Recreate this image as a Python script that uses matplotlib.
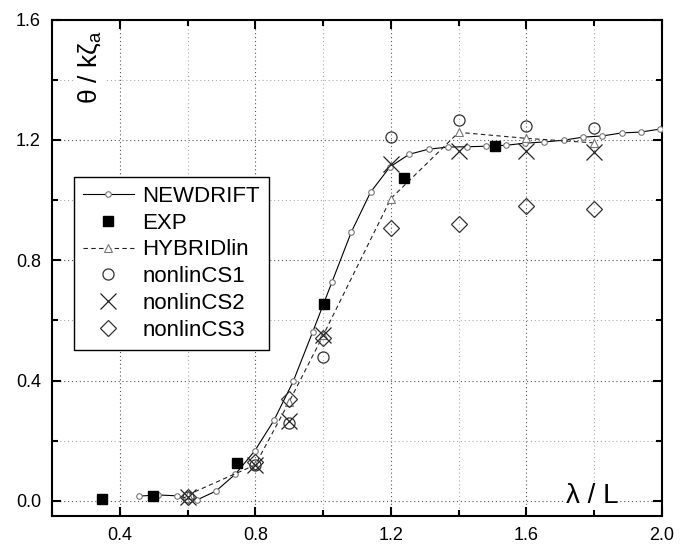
import numpy as np
import matplotlib
matplotlib.use("Agg")
import matplotlib.pyplot as plt
from matplotlib.ticker import MultipleLocator, FormatStrFormatter

plt.rcParams['font.family'] = ['Liberation Sans', 'DejaVu Sans']

# ---- data ----
newdrift_x = [0.456, 0.513, 0.570, 0.627, 0.684, 0.741, 0.798, 0.855, 0.912, 0.969,
              1.026, 1.083, 1.140, 1.197, 1.254, 1.311, 1.368, 1.425, 1.482, 1.539,
              1.596, 1.653, 1.710, 1.767, 1.824, 1.881, 1.938, 1.995]
newdrift_y = [0.016, 0.020, 0.017, 0.003, 0.033, 0.089, 0.166, 0.268, 0.398, 0.561,
              0.727, 0.893, 1.026, 1.110, 1.152, 1.169, 1.176, 1.177, 1.179, 1.182,
              1.189, 1.193, 1.199, 1.209, 1.213, 1.223, 1.226, 1.236]

exp_x = [0.347, 0.497, 0.745, 1.004, 1.240, 1.508]
exp_y = [0.006, 0.016, 0.125, 0.654, 1.073, 1.180]

cs_x = [0.6, 0.8, 0.9, 1.0, 1.2, 1.4, 1.6, 1.8]
hybrid_y = [0.020, 0.120, 0.330, 0.550, 1.005, 1.225, 1.205, 1.190]
cs1_y = [0.012, 0.120, 0.260, 0.477, 1.210, 1.265, 1.246, 1.239]
cs2_y = [0.012, 0.120, 0.265, 0.550, 1.120, 1.162, 1.163, 1.160]
cs3_y = [0.012, 0.130, 0.338, 0.543, 0.906, 0.920, 0.980, 0.970]

# ---- figure ----
W, H = 683, 544
fig = plt.figure(figsize=(W / 100, H / 100), dpi=100)
ax = fig.add_axes([52 / W, (H - 516) / H, 610 / W, 496.5 / H])

ax.set_xlim(0.2, 2.0)
ax.set_ylim(-0.05, 1.6)

ax.xaxis.set_major_locator(MultipleLocator(0.4))
ax.xaxis.set_minor_locator(MultipleLocator(0.2))
ax.yaxis.set_major_locator(MultipleLocator(0.4))
ax.yaxis.set_minor_locator(MultipleLocator(0.2))
ax.xaxis.set_major_formatter(FormatStrFormatter('%.1f'))
ax.yaxis.set_major_formatter(FormatStrFormatter('%.1f'))

ax.tick_params(which='both', direction='in', top=True, right=True, width=1.5,
               labelsize=13, pad=8)
ax.tick_params(which='major', length=6.5)
ax.tick_params(which='minor', length=4.5)
for s in ax.spines.values():
    s.set_linewidth(1.5)

ax.grid(which='major', color='#555555', linestyle=(0, (1, 2.5)), linewidth=0.8)
ax.grid(which='minor', color='#aaaaaa', linestyle=(0, (1, 2.5)), linewidth=0.8)
ax.set_axisbelow(True)

# series
ax.plot(newdrift_x, newdrift_y, '-', color='black', lw=0.8, marker='o', ms=4,
        mfc='white', mec='#777777', mew=0.8, label='NEWDRIFT', zorder=3)
ax.plot(exp_x, exp_y, 's', color='black', ms=7.5, label='EXP', zorder=5)
ax.plot(cs_x, hybrid_y, '--', color='#222222', lw=0.8, dashes=(4, 3), marker='^',
        ms=5.5, mfc='white', mec='#777777', mew=0.8, label='HYBRIDlin', zorder=3)
ax.plot(cs_x, cs1_y, 'o', ms=8, mfc='none', mec='#333333', mew=0.9,
        label='nonlinCS1', zorder=4)
ax.plot(cs_x, cs2_y, 'x', ms=12, mec='#222222', mew=0.9,
        label='nonlinCS2', zorder=4)
ax.plot(cs_x, cs3_y, 'D', ms=8.5, mfc='none', mec='#333333', mew=0.9,
        label='nonlinCS3', zorder=4)

leg = ax.legend(loc='upper left', bbox_to_anchor=(0.036, 0.683), borderaxespad=0,
                fontsize=16, frameon=True, fancybox=False, framealpha=1,
                edgecolor='black', handlelength=2.3, labelspacing=0.26,
                handletextpad=0.38, borderpad=0.4)
leg.get_frame().set_linewidth(1.0)
leg.set_zorder(10)

# axis labels inside the plot area
bb = dict(facecolor='white', edgecolor='none', pad=1)
ax.text(0.040, 0.978, r'θ / kζ$_{\mathregular{a}}$', transform=ax.transAxes,
        rotation=90, ha='left', va='top', fontsize=19, bbox=bb, zorder=6)
ax.text(0.843, 0.026, 'λ / L', transform=ax.transAxes, ha='left', va='baseline',
        fontsize=20, bbox=bb, zorder=6)

fig.savefig('out.png', dpi=100)
